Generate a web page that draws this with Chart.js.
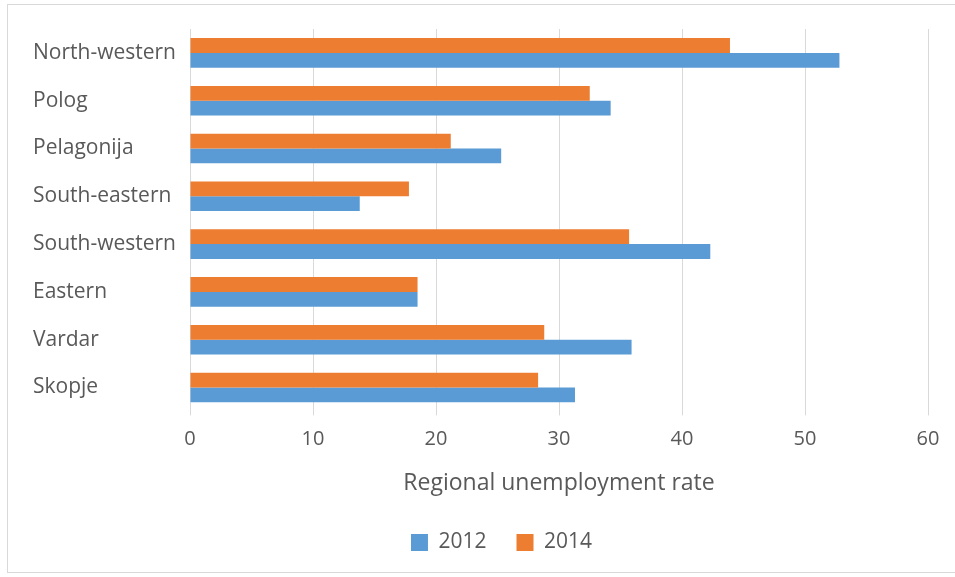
<!DOCTYPE html>
<html>
<head>
<meta charset="utf-8">
<script src="https://cdn.jsdelivr.net/npm/chart.js@4"></script>
<style>
  body { margin: 0; background: #fff; }
  #wrap { position: relative; width: 955px; height: 577px; }
  #frame { position: absolute; left: 7px; top: 4px; width: 960px; height: 567px; border: 1px solid #d9d9d9; pointer-events: none; }
</style>
</head>
<body>
<div id="wrap">
  <canvas id="grafico" width="955" height="577"></canvas>
  <div id="frame"></div>
</div>
<script>
const regioes = ["North-western", "Polog", "Pelagonija", "South-eastern", "South-western", "Eastern", "Vardar", "Skopje"];
const taxa2012 = [52.8, 34.2, 25.3, 13.8, 42.3, 18.5, 35.9, 31.3];
const taxa2014 = [43.9, 32.5, 21.2, 17.8, 35.7, 18.5, 28.8, 28.3];
const ticksX = [0, 10, 20, 30, 40, 50, 60];

const cinza = "#595959";
const fonte = "'Open Sans', sans-serif";

// legenda um pouco à direita, como no original
const deslocaLegenda = {
  id: "deslocaLegenda",
  afterLayout(chart) {
    chart.legend.left += 21;
    chart.legend.right += 21;
  },
};

const ctx = document.getElementById("grafico");
const myChart = new Chart(ctx, {
  type: "bar",
  data: {
    labels: regioes,
    datasets: [
      {
        label: "2014",
        data: taxa2014,
        backgroundColor: "#ED7D31",
        categoryPercentage: 0.62,
        barPercentage: 1.0,
      },
      {
        label: "2012",
        data: taxa2012,
        backgroundColor: "#5B9BD5",
        categoryPercentage: 0.62,
        barPercentage: 1.0,
      },
    ],
  },
  options: {
    indexAxis: "y",
    responsive: false,
    animation: false,
    layout: { padding: { left: 33, right: 27, top: 29, bottom: 14 } },
    scales: {
      x: {
        min: ticksX[0],
        max: ticksX[ticksX.length - 1],
        afterBuildTicks: (axis) => { axis.ticks = ticksX.map(v => ({ value: v })); },
        grid: { color: "#d9d9d9", tickLength: 4 },
        border: { display: false },
        ticks: { color: cinza, font: { family: fonte, size: 20 }, padding: 12 },
        title: {
          display: true,
          text: "Regional unemployment rate",
          color: cinza,
          font: { family: fonte, size: 23 },
          padding: { top: 6, bottom: 5 },
        },
      },
      y: {
        afterFit: (axis) => { axis.width = 157; },
        grid: { display: false },
        border: { display: false },
        ticks: { color: cinza, font: { family: fonte, size: 21 }, crossAlign: "far", padding: 15 },
      },
    },
    plugins: {
      legend: {
        position: "bottom",
        labels: {
          color: cinza,
          font: { family: fonte, size: 21 },
          boxWidth: 17,
          boxHeight: 17,
          padding: 30,
          sort: (a, b) => b.datasetIndex - a.datasetIndex,
        },
      },
      tooltip: { enabled: false },
    },
  },
  plugins: [deslocaLegenda],
});
</script>
</body>
</html>
